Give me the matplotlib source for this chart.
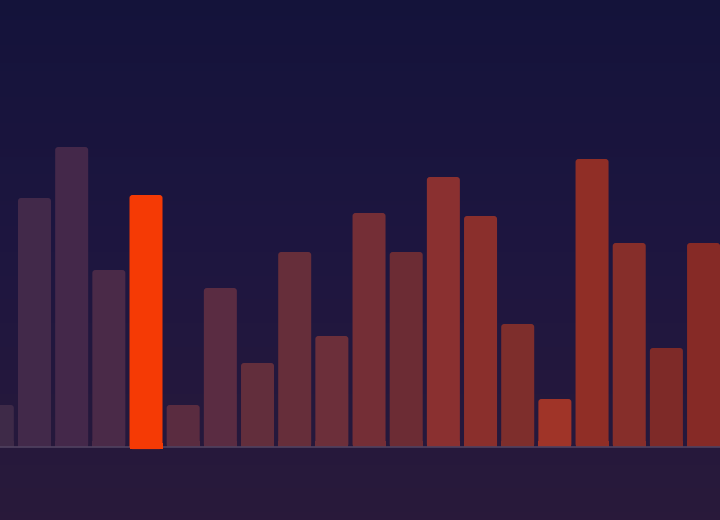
import matplotlib
matplotlib.use("Agg")
import matplotlib.pyplot as plt
import numpy as np
from matplotlib.patches import FancyBboxPatch
from matplotlib.colors import LinearSegmentedColormap

# bar values (arbitrary units)
values = [14, 83, 100, 59, 84, 14, 53, 28, 65, 37, 78, 65, 90, 77, 41, 16, 96, 68, 33, 68]
highlight = 4
bar_colors = ['#3e2a48', '#42294a', '#44284a', '#4a2a48', '#f53a05',
              '#5a2c40', '#5a2c42', '#622e3c', '#662e3a', '#6c2f3a',
              '#742e36', '#6c2c34', '#8a3030', '#8a2f2c', '#7e2e2c',
              '#a03428', '#902e26', '#862e2a', '#7e2a28', '#862a26']

fig = plt.figure(figsize=(7.2, 5.2), dpi=100)
ax = fig.add_axes([0, 0, 1, 1])

# background gradient
bg = LinearSegmentedColormap.from_list('bg', ['#13133a', '#1e1640', '#2a1a3a'])
ax.imshow(np.linspace(0, 1, 256).reshape(-1, 1), aspect='auto', cmap=bg,
          extent=[-1, 21, -30, 160], origin='upper', zorder=0)

pitch = 37.17
offset = -2.67
ax.set_xlim(-offset / pitch, (720 - offset) / pitch)
ax.set_ylim(-73 / 3, 447 / 3)

width = 0.888
for i, (v, c) in enumerate(zip(values, bar_colors)):
    bottom = -0.7 if i == highlight else 0
    z = 4 if i == highlight else 2
    p = FancyBboxPatch((i - width / 2, bottom), width, v - bottom,
                       boxstyle='round,pad=0,rounding_size=0.08',
                       mutation_aspect=pitch / 3, facecolor=c, edgecolor='none',
                       zorder=z)
    ax.add_patch(p)
    # square off the bottom corners
    ax.bar(i, 2, width=width, bottom=bottom, color=c, zorder=z)

ax.axhline(0, color='#4f4160', lw=1.2, zorder=3)
ax.axis('off')

fig.savefig('out.png', dpi=100)
